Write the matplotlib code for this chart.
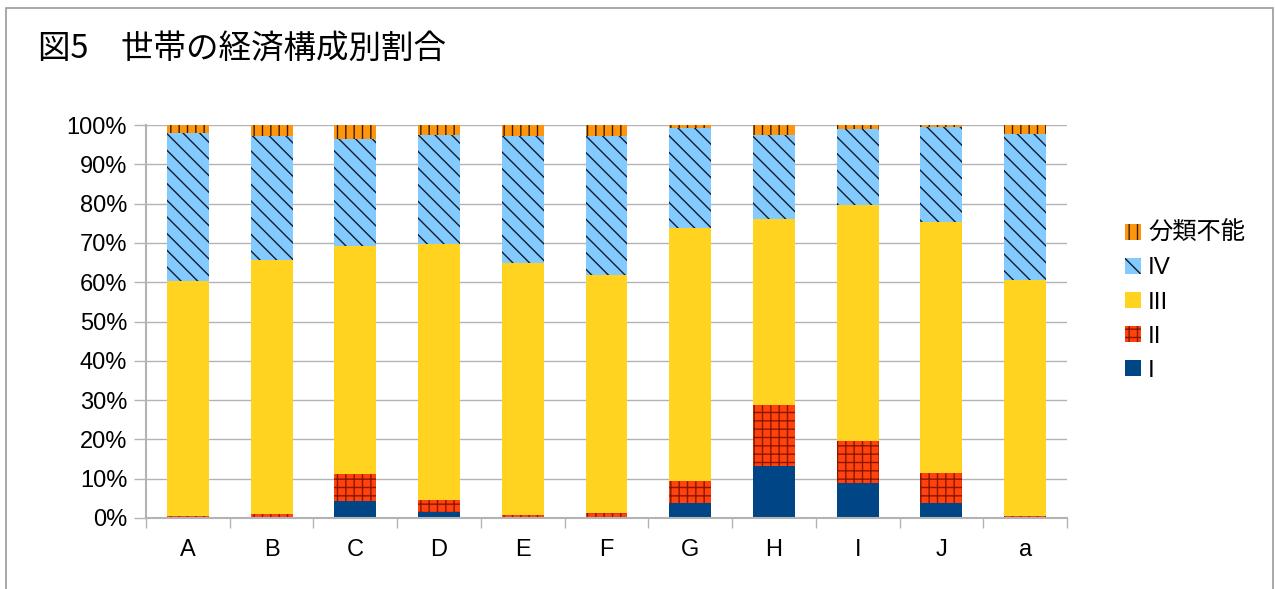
import matplotlib
matplotlib.use("Agg")
import matplotlib.pyplot as plt
import numpy as np
from matplotlib.patches import Rectangle, Patch

plt.rcParams['font.family'] = ['Liberation Sans', 'Noto Sans CJK JP', 'DejaVu Sans']
plt.rcParams['hatch.linewidth'] = 1.0

categories = ['A', 'B', 'C', 'D', 'E', 'F', 'G', 'H', 'I', 'J', 'a']
s_I   = [0.2, 0.3, 4.2, 1.4, 0.3, 0.3, 3.8, 13.3, 8.8, 3.7, 0.0]
s_II  = [0.2, 0.7, 7.0, 3.2, 0.5, 1.0, 5.7, 15.5, 10.8, 7.8, 0.4]
s_III = [59.9, 64.7, 58.0, 65.1, 64.1, 60.6, 64.3, 47.3, 60.1, 63.8, 60.2]
s_IV  = [37.6, 31.6, 27.2, 27.7, 32.4, 35.4, 25.5, 21.4, 19.3, 24.3, 37.1]
s_unk = [2.1, 2.7, 3.6, 2.6, 2.7, 2.7, 0.7, 2.5, 1.0, 0.4, 2.3]
series_names = ['I', 'II', 'III', 'IV', '分類不能']
yticks = [0, 10, 20, 30, 40, 50, 60, 70, 80, 90, 100]
title = '図5　世帯の経済構成別割合'

series = [s_I, s_II, s_III, s_IV, s_unk]
colors = ['#004586', '#ff420e', '#ffd320', '#83caff', '#ff950e']
hatches = [None, '++', None, '\\\\', '||']
hatch_colors = ['#004586', '#8a1800', '#ffd320', '#101c2c', '#3a2000']

fig = plt.figure(figsize=(12.75, 5.89), dpi=100)
ax = fig.add_axes([146/1275, 1-518/589, (1067-146)/1275, (518-125)/589])

x = np.arange(len(categories))
bottom = np.zeros(len(categories))
handles = []
for vals, c, h, hc, name in zip(series, colors, hatches, hatch_colors, series_names):
    v = np.array(vals)
    ax.bar(x, v, width=0.5, bottom=bottom, color=c, edgecolor=hc, linewidth=0,
           hatch=h, zorder=3)
    bottom += v
    handles.append(Patch(facecolor=c, edgecolor=hc, linewidth=0, hatch=h, label=name))

ax.set_xlim(-0.5, len(categories) - 0.5)
ax.set_ylim(0, 100)
ax.set_yticks(yticks)
ax.set_yticklabels([f'{t}%' for t in yticks])
ax.set_xticks(x)
ax.set_xticklabels(categories)
ax.set_xticks(np.arange(-0.5, len(categories), 1.0), minor=True)

gc = '#b3b3b3'
ax.grid(axis='y', color=gc, linewidth=1.0, zorder=0)
for s in ['top', 'right']:
    ax.spines[s].set_visible(False)
for s in ['left', 'bottom']:
    ax.spines[s].set_color(gc)
    ax.spines[s].set_linewidth(1.5)
    ax.spines[s].set_zorder(4)

ax.tick_params(axis='y', length=8.5, width=1.0, color=gc, labelsize=17, pad=5)
ax.tick_params(axis='x', which='major', length=0, labelsize=17, pad=15)
ax.tick_params(axis='x', which='minor', length=7.5, width=1.0, color=gc)

fig.text(38/1275, 1-50/589, title, fontsize=23.4, va='center', ha='left',
         family=['Noto Sans CJK JP', 'DejaVu Sans'])

leg = fig.legend(handles[::-1], series_names[::-1], loc='center left',
                 bbox_to_anchor=(1125/1275, 1-302/589), frameon=False,
                 handlelength=0.65, handleheight=0.65,
                 handletextpad=0.3, labelspacing=0.5, borderpad=0, borderaxespad=0,
                 prop={'family': ['Liberation Sans', 'Noto Sans CJK JP'], 'size': 17.5})

fig.patches.append(Rectangle((5.5/1275, -0.1), (1273-5.5)/1275, 1.1 - 8/589,
                             transform=fig.transFigure, fill=False,
                             edgecolor='#9a9a9a', linewidth=1.2))

fig.savefig('out.png', dpi=100)
